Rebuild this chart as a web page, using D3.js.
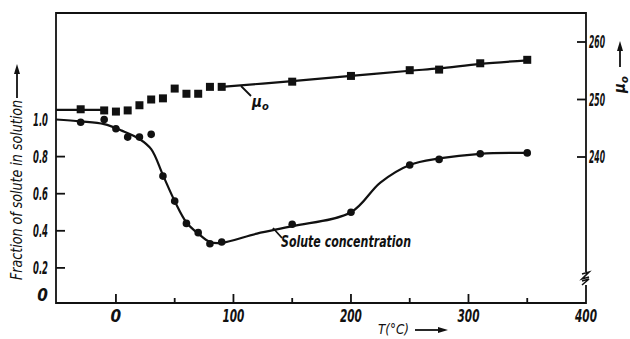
<html>
<head>
<script src="https://cdn.jsdelivr.net/npm/d3@7"></script>
<style>
  body { margin: 0; background: #fff; }
  text { font-family: "DejaVu Sans Condensed", "Liberation Sans", sans-serif; font-style: italic; fill: #111; }
  .frame { fill: none; stroke: #111; stroke-width: 1.8px; }
  .fit { fill: none; stroke: #111; stroke-width: 2.2px; }
  .tick { stroke: #111; stroke-width: 1.8px; }
</style>
</head>
<body>
<script>
// axes
var tempTicks = [0, 100, 200, 300, 400];
var tempMinor = [50, 150, 250, 350];
var fracTicks = [0, 0.2, 0.4, 0.6, 0.8, 1.0];
var fracLabels = ["0", "0.2", "0.4", "0.6", "0.8", "1.0"];
var muTicks = [240, 250, 260];

// mu_0 measurements (squares)
var muT   = [-30, -10, 0, 10, 20, 30, 40, 50, 60, 70, 80, 90, 150, 200, 250, 275, 310, 350];
var muVal = [248.3, 248.1, 247.9, 248.1, 249.0, 250.0, 250.2, 251.9, 251.0, 251.0, 252.2, 252.2, 253.1, 254.1, 255.1, 255.2, 256.3, 256.9];
// mu_0 drawn curve, two pieces
var muFitAT = [-51, -30, -10];
var muFitA  = [248.2, 248.2, 248.2];
var muFitBT = [90, 150, 200, 250, 275, 310, 350];
var muFitB  = [252.2, 253.2, 254.1, 255.0, 255.4, 256.2, 256.8];

// solute fraction measurements (circles)
var solT   = [-30, -10, 0, 10, 20, 30, 40, 50, 60, 70, 80, 90, 150, 200, 250, 275, 310, 350];
var solVal = [0.985, 1.0, 0.95, 0.905, 0.905, 0.92, 0.695, 0.56, 0.44, 0.39, 0.33, 0.34, 0.435, 0.50, 0.755, 0.785, 0.815, 0.82];
// solute drawn curve
var solFitT = [-51, -30, -10, 5, 20, 30, 40, 50, 60, 70, 80, 90, 120, 150, 200, 225, 250, 275, 310, 350];
var solFit  = [1.0, 0.99, 0.975, 0.94, 0.895, 0.84, 0.70, 0.56, 0.445, 0.385, 0.34, 0.335, 0.385, 0.425, 0.50, 0.66, 0.755, 0.79, 0.815, 0.82];

var W = 630, H = 339;
var pLeft = 56, pRight = 586, pTop = 13, pBottom = 303;

var x = d3.scaleLinear().domain([-51, 400]).range([pLeft, pRight]);
var yL = d3.scaleLinear().domain([0, 1]).range([305, 119.5]);
var yR = d3.scaleLinear().domain([240, 260]).range([157, 42]);

var svg = d3.select("body").append("svg")
    .attr("width", W)
    .attr("height", H);

// frame
svg.append("path").attr("class", "frame")
    .attr("d", "M" + pLeft + "," + pTop + "H" + pRight + "V" + pBottom + "H" + pLeft + "Z");

// bottom ticks (inward)
svg.selectAll(".xt").data(tempTicks.slice(0, 4)).enter().append("line")
    .attr("class", "tick")
    .attr("x1", function(d) { return x(d); }).attr("x2", function(d) { return x(d); })
    .attr("y1", pBottom).attr("y2", pBottom - 9);
svg.selectAll(".xm").data(tempMinor).enter().append("line")
    .attr("class", "tick")
    .attr("x1", function(d) { return x(d); }).attr("x2", function(d) { return x(d); })
    .attr("y1", pBottom).attr("y2", pBottom - 5);
svg.selectAll(".xl").data(tempTicks).enter().append("text")
    .attr("x", function(d) { return x(d); })
    .attr("y", pBottom + 19)
    .attr("text-anchor", "middle")
    .attr("textLength", function(d) { return d === 0 ? null : 22; })
    .attr("lengthAdjust", "spacingAndGlyphs")
    .style("font-size", "17px").style("font-weight", "bold")
    .text(function(d) { return d; });

// left ticks
svg.selectAll(".yt").data(fracTicks.slice(1, 5)).enter().append("line")
    .attr("class", "tick")
    .attr("x1", pLeft).attr("x2", pLeft + 9)
    .attr("y1", function(d) { return yL(d); }).attr("y2", function(d) { return yL(d); });
svg.selectAll(".yl").data(fracTicks).enter().append("text")
    .attr("x", pLeft - 8)
    .attr("y", function(d) { return d === 0 ? yL(d) - 4 : yL(d) + 6; })
    .attr("text-anchor", "end")
    .attr("textLength", function(d) { return d === 0 ? null : 15; })
    .attr("lengthAdjust", "spacingAndGlyphs")
    .style("font-size", "17px").style("font-weight", "bold")
    .text(function(d, i) { return fracLabels[i]; });

// right ticks
svg.selectAll(".rt").data(muTicks).enter().append("line")
    .attr("class", "tick")
    .attr("x1", pRight - 9).attr("x2", pRight)
    .attr("y1", function(d) { return yR(d); }).attr("y2", function(d) { return yR(d); });
svg.selectAll(".rl").data(muTicks).enter().append("text")
    .attr("x", pRight + 3)
    .attr("y", function(d) { return yR(d) + 6; })
    .attr("textLength", 16)
    .attr("lengthAdjust", "spacingAndGlyphs")
    .style("font-size", "17px").style("font-weight", "bold")
    .text(function(d) { return d; });

// axis break on right axis
svg.append("rect").attr("x", pRight - 3).attr("y", 272).attr("width", 6).attr("height", 13).attr("fill", "#fff");
svg.append("path").attr("fill", "none").attr("stroke", "#111").attr("stroke-width", 1.6)
    .attr("d", "M" + (pRight - 4) + ",274 L" + (pRight + 3) + ",272 L" + (pRight - 4) + ",279 L" + (pRight + 3) + ",277 M" + (pRight - 4) + ",281 L" + (pRight + 3) + ",279 L" + (pRight - 4) + ",285");

// axis titles
svg.append("text")
    .attr("transform", "translate(22,280) rotate(-90)")
    .attr("textLength", 180).attr("lengthAdjust", "spacingAndGlyphs")
    .style("font-size", "15px")
    .text("Fraction of solute in solution");
svg.append("line").attr("class", "tick").attr("x1", 17).attr("x2", 17).attr("y1", 98).attr("y2", 70);
svg.append("path").attr("d", "M17,64 L14,74 L20,74 Z").attr("fill", "#111");

var rt = svg.append("text")
    .attr("transform", "translate(625,93) rotate(-90)")
    .style("font-size", "15px").style("font-weight", "bold");
rt.append("tspan").text("\u03bc");
rt.append("tspan").attr("dy", 3).style("font-size", "11px").text("o");
svg.append("line").attr("class", "tick").attr("x1", 620).attr("x2", 620).attr("y1", 67).attr("y2", 48);
svg.append("path").attr("d", "M620,41 L617,51 L623,51 Z").attr("fill", "#111");

svg.append("text")
    .attr("x", 378).attr("y", 334)
    .attr("textLength", 31).attr("lengthAdjust", "spacingAndGlyphs")
    .style("font-size", "14px")
    .text("T(\u00b0C)");
svg.append("line").attr("class", "tick").attr("x1", 415).attr("x2", 440).attr("y1", 330).attr("y2", 330);
svg.append("path").attr("d", "M448,330 L438,327 L438,333 Z").attr("fill", "#111");

// fitted curves
var lineMu = d3.line()
    .x(function(d) { return x(d[0]); })
    .y(function(d) { return yR(d[1]); })
    .curve(d3.curveCatmullRom);
var lineSol = d3.line()
    .x(function(d) { return x(d[0]); })
    .y(function(d) { return yL(d[1]); })
    .curve(d3.curveCatmullRom);

svg.append("path").attr("class", "fit").attr("d", lineMu(d3.zip(muFitAT, muFitA)));
svg.append("path").attr("class", "fit").attr("d", lineMu(d3.zip(muFitBT, muFitB)));
svg.append("path").attr("class", "fit").attr("d", lineSol(d3.zip(solFitT, solFit)));

// markers
svg.selectAll(".sq").data(d3.zip(muT, muVal)).enter().append("rect")
    .attr("x", function(d) { return x(d[0]) - 4; })
    .attr("y", function(d) { return yR(d[1]) - 4; })
    .attr("width", 8).attr("height", 8)
    .attr("fill", "#111");
svg.selectAll(".ci").data(d3.zip(solT, solVal)).enter().append("circle")
    .attr("cx", function(d) { return x(d[0]); })
    .attr("cy", function(d) { return yL(d[1]); })
    .attr("r", 3.8)
    .attr("fill", "#111");

// curve labels
svg.append("line").attr("class", "tick").attr("x1", 241).attr("y1", 86).attr("x2", 251).attr("y2", 96);
var ml = svg.append("text").attr("x", 252).attr("y", 107)
    .style("font-size", "15px").style("font-weight", "bold");
ml.append("tspan").text("\u03bc");
ml.append("tspan").attr("dy", 3).style("font-size", "11px").text("o");

svg.append("line").attr("class", "tick").attr("x1", 273).attr("y1", 228).attr("x2", 282).attr("y2", 238);
svg.append("text").attr("x", 281).attr("y", 247)
    .attr("textLength", 130).attr("lengthAdjust", "spacingAndGlyphs")
    .style("font-size", "15px").style("font-weight", "bold")
    .text("Solute concentration");
</script>
</body>
</html>
